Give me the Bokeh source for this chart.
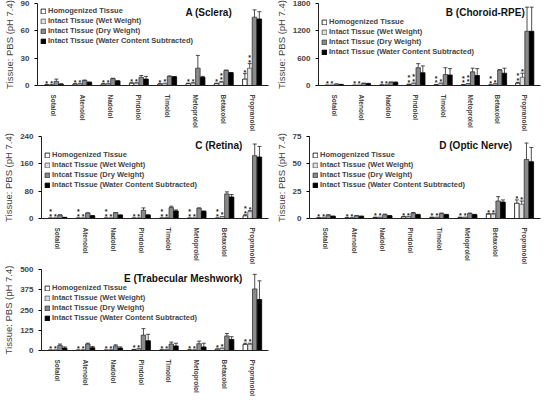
from bokeh.plotting import figure
from bokeh.layouts import column, row
from bokeh.models import ColumnDataSource, Whisker, TeeHead, FactorRange, Range1d, FixedTicker
from bokeh.transform import dodge
from bokeh.core.properties import value
from bokeh.embed import file_html
from bokeh.resources import INLINE

drugs = ["Sotalol", "Atenolol", "Nadolol", "Pindolol", "Timolol", "Metoprolol", "Betaxolol", "Propranolol"]
series_names = ["Homogenized Tissue", "Intact Tissue (Wet Weight)", "Intact Tissue (Dry Weight)",
                "Intact Tissue (Water Content Subtracted)"]
series_names_c = ["Homogenized Tissue", "Intact Tissue (Wet Weight)", "Intcat Tissue (Dry Weight)",
                  "Intact Tissue (Water Content Subtracted)"]

# A (Sclera)
sclera_homog = [0.5, 1.5, 1.5, 2.5, 1.5, 2.0, 2.0, 7.0]
sclera_homog_err = [0.5, 0.5, 0.5, 0.5, 0.5, 0.5, 0.5, 6.0]
sclera_wet = [0.5, 1.5, 1.5, 2.5, 2.0, 2.5, 3.5, 19.0]
sclera_wet_err = [0.5, 0.5, 0.5, 0.5, 0.5, 0.5, 1.0, 5.0]
sclera_dry = [4.5, 5.5, 7.5, 9.0, 10.0, 19.0, 16.5, 75.0]
sclera_dry_err = [2.5, 0.5, 0.5, 2.0, 0.5, 14.0, 0.5, 8.0]
sclera_wcs = [1.5, 3.5, 5.0, 7.0, 9.5, 9.0, 14.0, 73.0]
sclera_wcs_err = [0.3, 0.3, 0.3, 3.0, 0.3, 1.0, 0.3, 8.0]
sclera_star_h = ["*", "*", "*", "*", "*", "*", "*", "*"]
sclera_star_w = ["*", "*", "*", "*", "*", "*", "*\n*", "*\n*"]

# B (Choroid-RPE)
choroid_homog = [5, 5, 10, 20, 15, 15, 10, 50]
choroid_homog_err = [3, 3, 3, 10, 8, 8, 5, 20]
choroid_wet = [5, 5, 10, 40, 40, 30, 30, 180]
choroid_wet_err = [3, 3, 3, 15, 15, 15, 10, 90]
choroid_dry = [30, 45, 70, 390, 240, 300, 340, 1190]
choroid_dry_err = [5, 8, 8, 90, 150, 80, 10, 530]
choroid_wcs = [20, 40, 70, 280, 230, 220, 270, 1190]
choroid_wcs_err = [5, 8, 5, 150, 140, 150, 110, 530]
choroid_star_h = ["*", "*", "*", "*\n*", "*\n*", "*\n*", "*\n*", "*\n*"]
choroid_star_w = ["*", "*", "*", "*\n*", "*", "*\n*", "*", "*"]

# C (Retina)
retina_homog = [1, 1, 1, 1, 1, 1, 1, 8]
retina_homog_err = [0.5, 0.5, 0.5, 0.5, 0.5, 0.5, 0.5, 3]
retina_wet = [1, 1, 1, 1, 2, 1, 5, 20]
retina_wet_err = [0.5, 0.5, 0.5, 0.5, 0.5, 0.5, 1, 3]
retina_dry = [10, 16, 17, 24, 32, 30, 72, 184]
retina_dry_err = [1, 0.5, 0.5, 7, 4, 1, 6, 34]
retina_wcs = [3, 8, 10, 10, 22, 21, 63, 180]
retina_wcs_err = [0.5, 0.5, 0.5, 1, 3, 1, 7, 31]
retina_star_h = ["*\n*", "*\n*", "*\n*", "*", "*\n*", "*\n*", "*\n*", "*\n*"]
retina_star_w = ["*", "*", "*", "*", "*", "*", "*", "*"]

# D (Optic Nerve)
optic_homog = [0.5, 0.5, 1, 1.5, 1, 1, 4, 14]
optic_homog_err = [0.2, 0.2, 0.2, 0.3, 0.2, 0.2, 0.5, 3]
optic_wet = [0.5, 0.5, 1, 1.5, 1, 1, 4, 13]
optic_wet_err = [0.2, 0.2, 0.2, 0.3, 0.2, 0.2, 0.5, 3]
optic_dry = [3, 2.5, 3.5, 5, 4.5, 4.5, 16, 54]
optic_dry_err = [0.5, 0.3, 0.5, 0.5, 0.5, 0.5, 4, 15]
optic_wcs = [2, 2, 2.5, 3.5, 3.5, 3.5, 15, 52]
optic_wcs_err = [0.2, 0.2, 0.2, 0.3, 0.3, 0.3, 2, 13]
optic_star_h = ["*"] * 8
optic_star_w = ["*"] * 8

# E (Trabecular Meshwork)
tm_homog = [2, 2, 2, 5, 3, 3, 8, 38]
tm_homog_err = [1, 1, 1, 2, 1, 1, 2, 7]
tm_wet = [2, 3, 3, 8, 4, 3, 12, 38]
tm_wet_err = [1, 1, 1, 3, 1, 1, 3, 7]
tm_dry = [32, 40, 28, 95, 40, 42, 90, 380]
tm_dry_err = [8, 5, 7, 40, 12, 16, 15, 90]
tm_wcs = [15, 17, 15, 60, 28, 22, 68, 315]
tm_wcs_err = [7, 8, 7, 40, 17, 23, 17, 115]
tm_star_h = ["*"] * 8
tm_star_w = ["*"] * 8

FILLS = ["#ffffff", "#dedede", "#8a8a8a", "#000000"]
LINES = ["#000000", "#555555", "#333333", "#000000"]
OFFSETS = [-0.255, -0.085, 0.085, 0.255]
FONT = "Liberation Sans"


def make_panel(title, ymax, ticks, vals, errs, star_h, star_w, names, w, h, title_off, legend_gap):
    p = figure(x_range=FactorRange(*drugs, range_padding=0.02), y_range=Range1d(0, ymax),
               width=w, height=h, output_backend="svg", toolbar_location=None,
               min_border_left=4, min_border_right=4, min_border_top=3, min_border_bottom=2)
    p.outline_line_color = None
    p.xgrid.grid_line_color = None
    p.ygrid.grid_line_color = None
    p.background_fill_color = "white"
    for i in range(4):
        top = vals[i]
        upper = [t + e for t, e in zip(top, errs[i])]
        data = dict(drug=drugs, top=top, upper=upper)
        if i < 2:
            data["star"] = star_h if i == 0 else star_w
        src = ColumnDataSource(data)
        xd = dodge("drug", OFFSETS[i], range=p.x_range)
        p.vbar(x=xd, top="top", width=0.16, source=src, fill_color=FILLS[i],
               line_color=LINES[i], line_width=0.8, legend_label=names[i])
        wh = Whisker(source=src, base=dodge("drug", OFFSETS[i], range=p.x_range),
                     lower="top", upper="upper", lower_head=None,
                     upper_head=TeeHead(size=4, line_color="#222222", line_width=0.8),
                     line_color="#222222", line_width=0.8)
        p.add_layout(wh)
        if i < 2:
            p.text(x=dodge("drug", OFFSETS[i], range=p.x_range), y="upper", text="star", source=src,
                   text_font_size="7px", text_align="center", text_baseline="bottom",
                   text_font=value(FONT), text_font_style="bold", text_color="#222222",
                   text_line_height=0.7, y_offset=2)
    p.text(x=[drugs[-1]], y=[ymax], text=[title], x_offset=title_off, y_offset=3,
           text_align="right", text_baseline="top", text_font_size="10px",
           text_font=value(FONT), text_font_style="bold", text_color="#111111")

    p.yaxis.ticker = FixedTicker(ticks=ticks)
    p.yaxis.axis_label = "Tissue: PBS (pH 7.4)"
    p.yaxis.axis_label_text_font = FONT
    p.yaxis.axis_label_text_font_size = "9.5px"
    p.yaxis.axis_label_text_font_style = "normal"
    p.yaxis.axis_label_standoff = 3
    p.yaxis.major_label_text_font = FONT
    p.yaxis.major_label_text_font_size = "8px"
    p.yaxis.major_label_text_font_style = "bold"
    p.yaxis.minor_tick_line_color = None
    p.yaxis.major_tick_in = 0
    p.yaxis.major_tick_out = 3
    p.yaxis.axis_line_color = "#222222"

    p.xaxis.major_label_orientation = "vertical"
    p.xaxis.major_label_text_font = FONT
    p.xaxis.major_label_text_font_size = "6.5px"
    p.xaxis.major_label_text_font_style = "bold"
    p.xaxis.major_tick_line_color = None
    p.xaxis.major_label_standoff = 3
    p.xaxis.axis_line_color = "#222222"

    lg = p.legend[0]
    lg.location = "top_left"
    lg.background_fill_alpha = 0
    lg.border_line_color = None
    lg.label_text_font = FONT
    lg.label_text_font_size = "7.5px"
    lg.label_text_font_style = "bold"
    lg.glyph_width = 6
    lg.glyph_height = 6
    lg.label_height = 8
    lg.label_standoff = 2
    lg.spacing = 1
    lg.padding = 2
    lg.margin = 3
    if legend_gap:
        lg.title = " "
        lg.title_text_font_size = "%dpx" % legend_gap
        lg.title_standoff = 0
    return p


pa = make_panel("A (Sclera)", 90, [0, 30, 60, 90],
                [sclera_homog, sclera_wet, sclera_dry, sclera_wcs],
                [sclera_homog_err, sclera_wet_err, sclera_dry_err, sclera_wcs_err],
                sclera_star_h, sclera_star_w, series_names, 272, 133, -20, 0)
pb = make_panel("B (Choroid-RPE)", 1800, [0, 600, 1200, 1800],
                [choroid_homog, choroid_wet, choroid_dry, choroid_wcs],
                [choroid_homog_err, choroid_wet_err, choroid_dry_err, choroid_wcs_err],
                choroid_star_h, choroid_star_w, series_names, 272, 133, 0, 10)
pc = make_panel("C (Retina)", 240, [0, 80, 160, 240],
                [retina_homog, retina_wet, retina_dry, retina_wcs],
                [retina_homog_err, retina_wet_err, retina_dry_err, retina_wcs_err],
                retina_star_h, retina_star_w, series_names_c, 272, 133, -10, 10)
pd_ = make_panel("D (Optic Nerve)", 75, [0, 25, 50, 75],
                 [optic_homog, optic_wet, optic_dry, optic_wcs],
                 [optic_homog_err, optic_wet_err, optic_dry_err, optic_wcs_err],
                 optic_star_h, optic_star_w, series_names, 272, 133, -12, 10)
pe = make_panel("E (Trabecular Meshwork)", 500, [0, 125, 250, 375, 500],
                [tm_homog, tm_wet, tm_dry, tm_wcs],
                [tm_homog_err, tm_wet_err, tm_dry_err, tm_wcs_err],
                tm_star_h, tm_star_w, series_names, 272, 132, -10, 10)

layout = column(row(pa, pb), row(pc, pd_), row(pe))
open("out.html", "w").write(file_html(layout, INLINE))
